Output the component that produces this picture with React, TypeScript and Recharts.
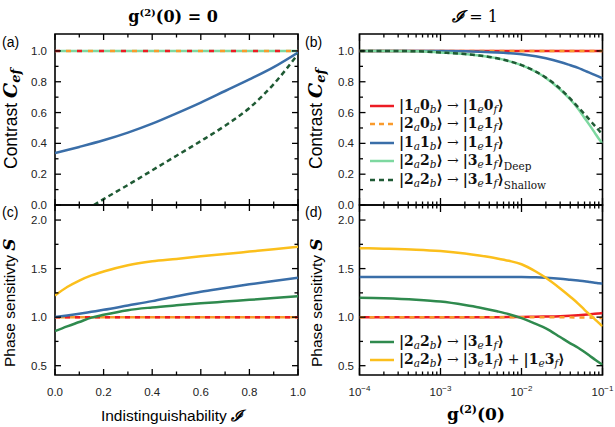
import React from 'react';
import { LineChart, Line, XAxis, YAxis, Legend, ReferenceArea } from 'recharts';

const W = 615;
const H = 427;
const SANS = '"Liberation Sans", Arial, sans-serif';
const SERIF = '"DejaVu Serif", "Liberation Serif", serif';

const RED = '#ec1c24';
const ORANGE = '#f99a2c';
const BLUE = '#3a6ea8';
const LIGHT_GREEN = '#7dd8a0';
const DARK_GREEN = '#1f5a34';
const GREEN = '#2f8a4e';
const YELLOW = '#fbbf1c';

// ---- (a) contrast vs indistinguishability, g2(0) = 0
const indistA = [0, 0.1, 0.2, 0.3, 0.4, 0.5, 0.6, 0.7, 0.8, 0.9, 1.0];
const contrastOneZeroA = [1, 1, 1, 1, 1, 1, 1, 1, 1, 1, 1];
const contrastTwoZeroA = [1, 1, 1, 1, 1, 1, 1, 1, 1, 1, 1];
const contrastOneOneA = [0.337, 0.377, 0.42, 0.47, 0.528, 0.595, 0.665, 0.74, 0.815, 0.895, 0.99];
const contrastDeepA = [1, 1, 1, 1, 1, 1, 1, 1, 1, 1, 1];
const indistShallowA = [0.16, 0.2, 0.3, 0.4, 0.5, 0.6, 0.7, 0.8, 0.9, 1.0];
const contrastShallowA = [0, 0.038, 0.13, 0.225, 0.32, 0.415, 0.515, 0.63, 0.785, 0.98];

// ---- (c) phase sensitivity vs indistinguishability
const indistC = [0, 0.05, 0.1, 0.15, 0.2, 0.3, 0.4, 0.5, 0.6, 0.7, 0.8, 0.9, 1.0];
const sensOneZeroC = [1, 1, 1, 1, 1, 1, 1, 1, 1, 1, 1, 1, 1];
const sensTwoZeroC = [1, 1, 1, 1, 1, 1, 1, 1, 1, 1, 1, 1, 1];
const sensOneOneC = [1.0, 1.017, 1.035, 1.055, 1.075, 1.12, 1.165, 1.215, 1.262, 1.3, 1.338, 1.372, 1.405];
const sensTwoTwoC = [0.856, 0.905, 0.95, 0.995, 1.024, 1.072, 1.1, 1.122, 1.142, 1.16, 1.178, 1.196, 1.216];
const sensSumC = [1.223, 1.31, 1.377, 1.43, 1.47, 1.535, 1.575, 1.6, 1.627, 1.65, 1.675, 1.7, 1.726];

// ---- (b), (d) vs g2(0), I = 1
const g2 = [1e-4, 2e-4, 5e-4, 1e-3, 2e-3, 3e-3, 5e-3, 7e-3, 1e-2, 1.5e-2, 2e-2, 3e-2, 4e-2, 5e-2, 6e-2, 7e-2, 8e-2, 9e-2, 1e-1];
const contrastOneZeroB = [1, 1, 1, 1, 1, 1, 1, 1, 1, 1, 1, 1, 1, 1, 1, 1, 1, 1, 1];
const contrastTwoZeroB = [1, 1, 1, 1, 1, 1, 1, 1, 1, 1, 1, 1, 1, 1, 1, 1, 1, 1, 1];
const contrastOneOneB = [1, 1, 1, 1, 0.998, 0.995, 0.99, 0.985, 0.978, 0.965, 0.952, 0.928, 0.907, 0.89, 0.872, 0.858, 0.845, 0.833, 0.822];
const contrastDeepB = [1, 1, 0.998, 0.99, 0.98, 0.97, 0.952, 0.934, 0.908, 0.865, 0.825, 0.75, 0.685, 0.625, 0.565, 0.515, 0.47, 0.43, 0.4];
const contrastShallowB = [1, 1, 0.998, 0.99, 0.98, 0.97, 0.952, 0.934, 0.908, 0.866, 0.827, 0.755, 0.69, 0.635, 0.59, 0.55, 0.515, 0.485, 0.455];

const sensOneZeroD = [1, 1, 1, 1, 1, 1, 1, 1.001, 1.002, 1.004, 1.006, 1.01, 1.015, 1.02, 1.025, 1.03, 1.034, 1.038, 1.042];
const sensTwoZeroD = [1, 1, 1, 1, 1, 1, 1, 1, 1, 1, 1, 0.999, 0.998, 0.997, 0.996, 0.995, 0.993, 0.992, 0.99];
const sensOneOneD = [1.414, 1.414, 1.414, 1.414, 1.414, 1.414, 1.414, 1.414, 1.414, 1.41, 1.405, 1.395, 1.385, 1.377, 1.37, 1.362, 1.355, 1.35, 1.345];
const sensTwoTwoD = [1.2, 1.195, 1.18, 1.16, 1.125, 1.1, 1.06, 1.03, 0.99, 0.93, 0.885, 0.795, 0.73, 0.685, 0.64, 0.6, 0.565, 0.535, 0.51];
const sensSumD = [1.71, 1.705, 1.695, 1.68, 1.655, 1.635, 1.605, 1.58, 1.545, 1.47, 1.405, 1.295, 1.21, 1.14, 1.075, 1.025, 0.98, 0.94, 0.905];

// ---- ticks
const indistTicks = [0, 0.1, 0.2, 0.3, 0.4, 0.5, 0.6, 0.7, 0.8, 0.9, 1.0];
const indistMajor = [0, 0.2, 0.4, 0.6, 0.8, 1.0];
const contrastTicks = [0, 0.1, 0.2, 0.3, 0.4, 0.5, 0.6, 0.7, 0.8, 0.9, 1.0];
const contrastMajor = [0, 0.2, 0.4, 0.6, 0.8, 1.0];
const sensTicks = [0.5, 0.75, 1.0, 1.25, 1.5, 1.75, 2.0];
const sensMajor = [0.5, 1.0, 1.5, 2.0];
const g2Ticks = [
  1e-4, 2e-4, 3e-4, 4e-4, 5e-4, 6e-4, 7e-4, 8e-4, 9e-4,
  1e-3, 2e-3, 3e-3, 4e-3, 5e-3, 6e-3, 7e-3, 8e-3, 9e-3,
  1e-2, 2e-2, 3e-2, 4e-2, 5e-2, 6e-2, 7e-2, 8e-2, 9e-2, 1e-1,
];
const g2Major = [1e-4, 1e-3, 1e-2, 1e-1];
const g2Exponents = ['−4', '−3', '−2', '−1'];

// ---- legend labels
const legendLabelsB = [
  '|1_a0_b⟩ → |1_e0_f⟩',
  '|2_a0_b⟩ → |1_e1_f⟩',
  '|1_a1_b⟩ → |1_e1_f⟩',
  '|2_a2_b⟩ → |3_e1_f⟩_{Deep}',
  '|2_a2_b⟩ → |3_e1_f⟩_{Shallow}',
];
const legendLabelsD = ['|2_a2_b⟩ → |3_e1_f⟩', '|2_a2_b⟩ → |3_e1_f⟩ + |1_e3_f⟩'];

const zip = (xs: number[], ys: number[]) => xs.map((x, i) => ({ x, y: ys[i] }));
const isIn = (list: number[], v: number) => list.some((m) => Math.abs(m - v) <= 1e-6 * Math.abs(m) + 1e-9);

type Series = { rows: { x: number; y: number }[]; color: string; dash?: string; offset?: number };
type Box = { left: number; right: number; top: number; bottom: number };

const boxA: Box = { left: 55, right: 298, top: 34, bottom: 205 };
const boxC: Box = { left: 55, right: 298, top: 205, bottom: 375 };
const boxB: Box = { left: 359.5, right: 602.5, top: 34, bottom: 205 };
const boxD: Box = { left: 359.5, right: 602.5, top: 205, bottom: 375 };

const fmt1 = (v: number) => v.toFixed(1);

function MathText({ s }: { s: string }) {
  const parts = s.split(/(_\{[^}]*\}|_.| → | \+ )/).filter((p) => p !== '');
  return (
    <>
      {parts.map((p, i) => {
        if (p.startsWith('_{'))
          return (
            <span key={i} style={{ position: 'relative', top: 5, fontSize: 10.5, fontWeight: 'normal' }}>
              {p.slice(2, -1)}
            </span>
          );
        if (p.startsWith('_'))
          return (
            <span key={i} style={{ position: 'relative', top: 3, fontSize: 10.5, fontStyle: 'italic', fontWeight: 'normal' }}>
              {p.slice(1)}
            </span>
          );
        if (p.trim() === '→' || p.trim() === '+')
          return (
            <span key={i} style={{ margin: '0 4px', fontWeight: 'normal' }}>
              {p.trim()}
            </span>
          );
        return <span key={i}>{p}</span>;
      })}
    </>
  );
}

function LegendBox({ labels, series }: { labels: string[]; series: Series[] }) {
  return (
    <div>
      {labels.map((l, i) => (
        <div key={i} style={{ display: 'flex', alignItems: 'center', height: 18.5, whiteSpace: 'nowrap' }}>
          <svg width={24} height={10} style={{ flex: 'none' }}>
            <line x1={0} y1={5} x2={24} y2={5} stroke={series[i].color} strokeWidth={2.5} strokeDasharray={series[i].dash ? '5 4' : undefined} />
          </svg>
          <span style={{ marginLeft: 5, fontFamily: SERIF, fontSize: 14, fontWeight: 'bold', color: '#111', lineHeight: '15px' }}>
            <MathText s={l} />
          </span>
        </div>
      ))}
    </div>
  );
}

type PanelProps = {
  box: Box;
  xDomain: [number, number];
  xLog?: boolean;
  xTicks: number[];
  xMajor: number[];
  xLabel?: (v: number) => React.ReactNode;
  yDomain: [number, number];
  yTicks: number[];
  yMajor: number[];
  yLabelRight: number;
  series: Series[];
  legend?: { labels: string[]; series: Series[]; left: number; top: number };
};

function Panel(p: PanelProps) {
  const { box } = p;
  const pw = box.right - box.left;
  const ph = box.bottom - box.top;
  const xTick = (props: any) => {
    const { x, y, payload } = props;
    const major = isIn(p.xMajor, payload.value);
    const len = major ? (p.xLog ? 7 : 6) : 3.5;
    return (
      <g>
        <line x1={x} y1={y} x2={x} y2={y - len} stroke="#000" strokeWidth={1.3} />
        <line x1={x} y1={y - ph} x2={x} y2={y - ph + len} stroke="#000" strokeWidth={1.3} />
        {p.xLabel && major && (
          <text x={x} y={y + 21} textAnchor="middle" fontFamily={SANS} fontSize={11.5} fill="#222">
            {p.xLabel(payload.value)}
          </text>
        )}
      </g>
    );
  };
  const yTick = (props: any) => {
    const { x, y, payload } = props;
    const major = isIn(p.yMajor, payload.value);
    const len = major ? 6 : 3.5;
    return (
      <g>
        <line x1={x} y1={y} x2={x + len} y2={y} stroke="#000" strokeWidth={1.3} />
        <line x1={x + pw} y1={y} x2={x + pw - len} y2={y} stroke="#000" strokeWidth={1.3} />
        {major && (
          <text x={p.yLabelRight} y={y + 4} textAnchor="end" fontFamily={SANS} fontSize={11.5} fill="#222">
            {fmt1(payload.value)}
          </text>
        )}
      </g>
    );
  };
  return (
    <div style={{ position: 'absolute', left: 0, top: 0 }}>
      <LineChart
        width={W}
        height={H}
        margin={{ top: box.top, left: box.left - 40, right: W - box.right, bottom: H - box.bottom - 20 }}
      >
        <XAxis
          type="number"
          dataKey="x"
          scale={p.xLog ? 'log' : 'linear'}
          domain={p.xDomain}
          allowDataOverflow
          ticks={p.xTicks}
          interval={0}
          height={20}
          tickSize={0}
          tickMargin={0}
          tickLine={false}
          axisLine={false}
          tick={xTick}
        />
        <YAxis
          type="number"
          domain={p.yDomain}
          allowDataOverflow
          ticks={p.yTicks}
          interval={0}
          width={40}
          tickSize={0}
          tickMargin={0}
          tickLine={false}
          axisLine={false}
          tick={yTick}
        />
        <ReferenceArea
          x1={p.xDomain[0]}
          x2={p.xDomain[1]}
          y1={p.yDomain[0]}
          y2={p.yDomain[1]}
          fill="none"
          stroke="#000"
          strokeWidth={1.6}
          ifOverflow="visible"
        />
        {p.series.map((s, i) => (
          <Line
            key={i}
            data={s.rows}
            dataKey="y"
            type="monotone"
            stroke={s.color}
            strokeWidth={2.5}
            strokeDasharray={s.dash}
            strokeDashoffset={s.offset}
            dot={false}
            activeDot={false}
            isAnimationActive={false}
          />
        ))}
        {p.legend && (
          <Legend
            layout="vertical"
            align="center"
            verticalAlign="middle"
            wrapperStyle={{ left: p.legend.left, top: p.legend.top, width: 'auto', height: 'auto' }}
            content={() => <LegendBox labels={p.legend!.labels} series={p.legend!.series} />}
          />
        )}
      </LineChart>
    </div>
  );
}

const seriesA: Series[] = [
  { rows: zip(indistA, contrastDeepA), color: LIGHT_GREEN },
  { rows: zip(indistA, contrastOneZeroA), color: RED, dash: '5 17' },
  { rows: zip(indistA, contrastTwoZeroA), color: ORANGE, dash: '5 17', offset: 11 },
  { rows: zip(indistA, contrastOneOneA), color: BLUE },
  { rows: zip(indistShallowA, contrastShallowA), color: DARK_GREEN, dash: '5 3.5' },
];
const seriesB: Series[] = [
  { rows: zip(g2, contrastOneZeroB), color: RED },
  { rows: zip(g2, contrastTwoZeroB), color: ORANGE, dash: '5 5' },
  { rows: zip(g2, contrastOneOneB), color: BLUE },
  { rows: zip(g2, contrastDeepB), color: LIGHT_GREEN },
  { rows: zip(g2, contrastShallowB), color: DARK_GREEN, dash: '5 3.5' },
];
const seriesC: Series[] = [
  { rows: zip(indistC, sensTwoZeroC), color: ORANGE },
  { rows: zip(indistC, sensOneZeroC), color: RED, dash: '5 5' },
  { rows: zip(indistC, sensOneOneC), color: BLUE },
  { rows: zip(indistC, sensTwoTwoC), color: GREEN },
  { rows: zip(indistC, sensSumC), color: YELLOW },
];
const seriesD: Series[] = [
  { rows: zip(g2, sensOneZeroD), color: RED },
  { rows: zip(g2, sensTwoZeroD), color: ORANGE, dash: '5 5' },
  { rows: zip(g2, sensOneOneD), color: BLUE },
  { rows: zip(g2, sensTwoTwoD), color: GREEN },
  { rows: zip(g2, sensSumD), color: YELLOW },
];

const logLabel = (v: number) => {
  const i = g2Major.findIndex((m) => Math.abs(m - v) <= 1e-6 * m);
  return (
    <>
      10<tspan dy={-5} fontSize={8}>{g2Exponents[i]}</tspan>
    </>
  );
};

export default function App() {
  return (
    <div style={{ position: 'absolute', left: 0, top: 0, width: W, height: H, background: '#fff' }}>
      <Panel
        box={boxA}
        xDomain={[0, 1]}
        xTicks={indistTicks}
        xMajor={indistMajor}
        yDomain={[0, 1.11]}
        yTicks={contrastTicks}
        yMajor={contrastMajor}
        yLabelRight={47}
        series={seriesA}
      />
      <Panel
        box={boxC}
        xDomain={[0, 1]}
        xTicks={indistTicks}
        xMajor={indistMajor}
        xLabel={fmt1}
        yDomain={[0.404, 2.155]}
        yTicks={sensTicks}
        yMajor={sensMajor}
        yLabelRight={47}
        series={seriesC}
      />
      <Panel
        box={boxB}
        xDomain={[1e-4, 1e-1]}
        xLog
        xTicks={g2Ticks}
        xMajor={g2Major}
        yDomain={[0, 1.11]}
        yTicks={contrastTicks}
        yMajor={contrastMajor}
        yLabelRight={354}
        series={seriesB}
        legend={{ labels: legendLabelsB, series: [seriesB[0], seriesB[1], seriesB[2], seriesB[3], seriesB[4]], left: 370, top: 96.5 }}
      />
      <Panel
        box={boxD}
        xDomain={[1e-4, 1e-1]}
        xLog
        xTicks={g2Ticks}
        xMajor={g2Major}
        xLabel={logLabel}
        yDomain={[0.404, 2.155]}
        yTicks={sensTicks}
        yMajor={sensMajor}
        yLabelRight={354}
        series={seriesD}
        legend={{ labels: legendLabelsD, series: [seriesD[3], seriesD[4]], left: 370, top: 332.5 }}
      />
      <svg width={W} height={H} style={{ position: 'absolute', left: 0, top: 0, pointerEvents: 'none' }}>
        <text x={173} y={22} textAnchor="middle" fontFamily={SERIF} fontWeight="bold" fontSize={16}>
          g<tspan dy={-6} fontSize={10}>(2)</tspan>
          <tspan dy={6}>(0) = 0</tspan>
        </text>
        <text x={475} y={22} textAnchor="middle" fontFamily={SERIF} fontSize={16}>
          <tspan fontStyle="italic" fontWeight="bold">ℐ</tspan> = 1
        </text>
        <text x={2} y={47} fontFamily={SANS} fontSize={14}>(a)</text>
        <text x={305} y={47} fontFamily={SANS} fontSize={14}>(b)</text>
        <text x={2} y={217} fontFamily={SANS} fontSize={14}>(c)</text>
        <text x={305} y={217} fontFamily={SANS} fontSize={14}>(d)</text>
        <text transform="translate(17,169) rotate(-90)" fontFamily={SANS} fontSize={17.5}>
          Contrast{' '}
          <tspan fontFamily={SERIF} fontStyle="italic" fontWeight="bold" fontSize={19}>C</tspan>
          <tspan fontFamily={SERIF} fontStyle="italic" fontWeight="bold" fontSize={13} dy={3}>ef</tspan>
        </text>
        <text transform="translate(322,169) rotate(-90)" fontFamily={SANS} fontSize={17.5}>
          Contrast{' '}
          <tspan fontFamily={SERIF} fontStyle="italic" fontWeight="bold" fontSize={19}>C</tspan>
          <tspan fontFamily={SERIF} fontStyle="italic" fontWeight="bold" fontSize={13} dy={3}>ef</tspan>
        </text>
        <text transform="translate(15,367) rotate(-90)" fontFamily={SANS} fontSize={15.5}>
          Phase sensitivty{' '}
          <tspan fontFamily={SERIF} fontStyle="italic" fontWeight="bold" fontSize={17}>S</tspan>
        </text>
        <text transform="translate(322,367) rotate(-90)" fontFamily={SANS} fontSize={15.5}>
          Phase sensitivty{' '}
          <tspan fontFamily={SERIF} fontStyle="italic" fontWeight="bold" fontSize={17}>S</tspan>
        </text>
        <text x={172} y={421} textAnchor="middle" fontFamily={SANS} fontSize={15.5}>
          Indistinguishability{' '}
          <tspan fontFamily={SERIF} fontStyle="italic" fontWeight="bold">ℐ</tspan>
        </text>
        <text x={476} y={420} textAnchor="middle" fontFamily={SERIF} fontWeight="bold" fontSize={17}>
          g<tspan dy={-7} fontSize={11}>(2)</tspan>
          <tspan dy={7}>(0)</tspan>
        </text>
      </svg>
    </div>
  );
}
